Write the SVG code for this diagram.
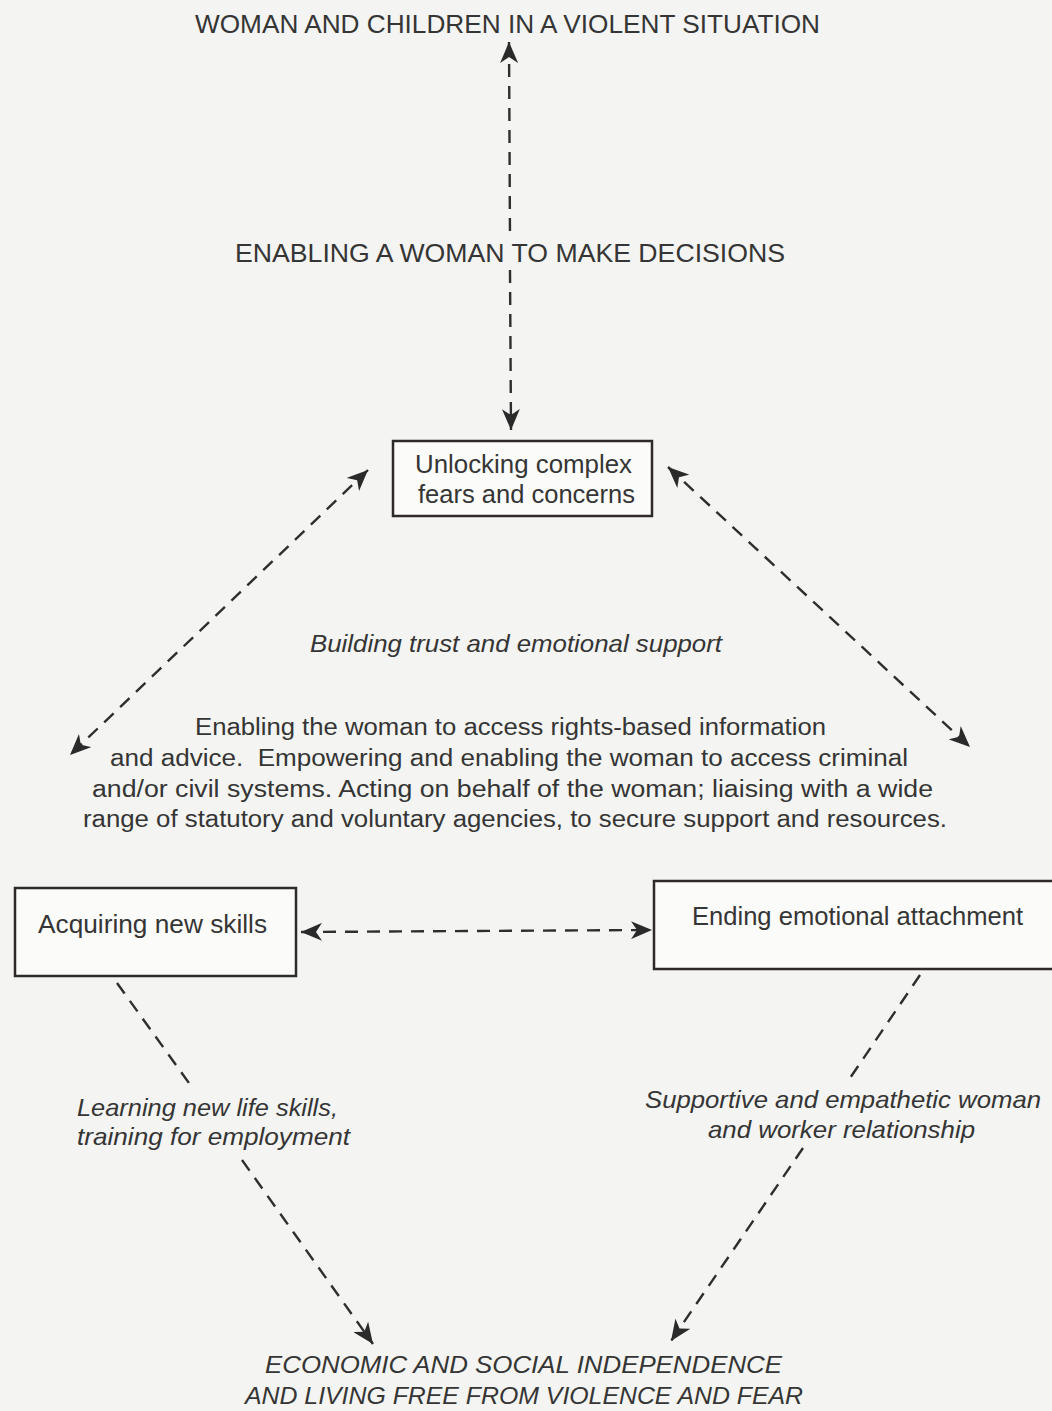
<svg xmlns="http://www.w3.org/2000/svg" width="1052" height="1411" viewBox="0 0 1052 1411">
<style>
.t{font-family:"Liberation Sans","DejaVu Sans",sans-serif;fill:#353535;}
.c{font-size:25px;}
.n{font-size:25px;}
.p{font-size:23px;white-space:pre;}
.i{font-size:24px;font-style:italic;}
.box{fill:#fbfbfa;stroke:#2e2a28;stroke-width:2.5;}
.d{fill:none;stroke:#2e2e2e;stroke-width:2.4;stroke-dasharray:13 9;}
</style>
<defs>
<marker id="ah" markerUnits="userSpaceOnUse" markerWidth="22" markerHeight="18" viewBox="0 0 22 18" refX="21" refY="9" orient="auto-start-reverse">
<path d="M21,9 L0,0 L6,9 L0,18 Z" fill="#2a2a2a"/>
</marker>
</defs>
<rect x="0" y="0" width="1052" height="1411" fill="#f4f4f2"/>

<g id="connectors">
<path class="d" d="M509,42 L510,238" marker-start="url(#ah)"/>
<path class="d" d="M510,270 L511,430" marker-end="url(#ah)"/>
<path class="d" d="M368,470 L70,755" marker-start="url(#ah)" marker-end="url(#ah)"/>
<path class="d" d="M668,467 L970,747" marker-start="url(#ah)" marker-end="url(#ah)"/>
<path class="d" d="M301,932 L652,930" marker-start="url(#ah)" marker-end="url(#ah)"/>
<path class="d" d="M117,983 L194,1090"/>
<path class="d" d="M242,1160 L373,1344" marker-end="url(#ah)"/>
<path class="d" d="M920,975 L846,1084"/>
<path class="d" d="M803,1148 L671,1341" marker-end="url(#ah)"/>
</g>

<g id="top">
<text class="t c" x="195" y="33" textLength="625" lengthAdjust="spacingAndGlyphs">WOMAN AND CHILDREN IN A VIOLENT SITUATION</text>
</g>
<g id="label-decisions">
<text class="t c" x="235" y="262" textLength="550" lengthAdjust="spacingAndGlyphs">ENABLING A WOMAN TO MAKE DECISIONS</text>
</g>

<g id="node-unlocking">
<rect class="box" x="393" y="441" width="259" height="75"/>
<text class="t n" x="415" y="473" textLength="217" lengthAdjust="spacingAndGlyphs">Unlocking complex</text>
<text class="t n" x="418" y="503" textLength="217" lengthAdjust="spacingAndGlyphs">fears and concerns</text>
</g>

<g id="label-trust">
<text class="t i" x="310" y="652" textLength="412" lengthAdjust="spacingAndGlyphs">Building trust and emotional support</text>
</g>

<g id="label-rights">
<text class="t p" x="195" y="735" textLength="631" lengthAdjust="spacingAndGlyphs">Enabling the woman to access rights-based information</text>
<text class="t p" x="110" y="766" textLength="798" lengthAdjust="spacingAndGlyphs">and advice.  Empowering and enabling the woman to access criminal</text>
<text class="t p" x="92" y="797" textLength="841" lengthAdjust="spacingAndGlyphs">and/or civil systems. Acting on behalf of the woman; liaising with a wide</text>
<text class="t p" x="83" y="827" textLength="864" lengthAdjust="spacingAndGlyphs">range of statutory and voluntary agencies, to secure support and resources.</text>
</g>

<g id="node-skills">
<rect class="box" x="15" y="888" width="281" height="88"/>
<text class="t n" x="38" y="933" textLength="229" lengthAdjust="spacingAndGlyphs">Acquiring new skills</text>
</g>

<g id="node-ending">
<rect class="box" x="654" y="881" width="410" height="88"/>
<text class="t n" x="692" y="925" textLength="331" lengthAdjust="spacingAndGlyphs">Ending emotional attachment</text>
</g>

<g id="label-learning">
<text class="t i" x="77" y="1116" textLength="261" lengthAdjust="spacingAndGlyphs">Learning new life skills,</text>
<text class="t i" x="77" y="1145" textLength="273" lengthAdjust="spacingAndGlyphs">training for employment</text>
</g>

<g id="label-supportive">
<text class="t i" x="645" y="1108" textLength="396" lengthAdjust="spacingAndGlyphs">Supportive and empathetic woman</text>
<text class="t i" x="708" y="1138" textLength="267" lengthAdjust="spacingAndGlyphs">and worker relationship</text>
</g>

<g id="bottom">
<text class="t i" x="265" y="1373" textLength="517" lengthAdjust="spacingAndGlyphs">ECONOMIC AND SOCIAL INDEPENDENCE</text>
<text class="t i" x="245" y="1404" textLength="558" lengthAdjust="spacingAndGlyphs">AND LIVING FREE FROM VIOLENCE AND FEAR</text>
</g>
</svg>
